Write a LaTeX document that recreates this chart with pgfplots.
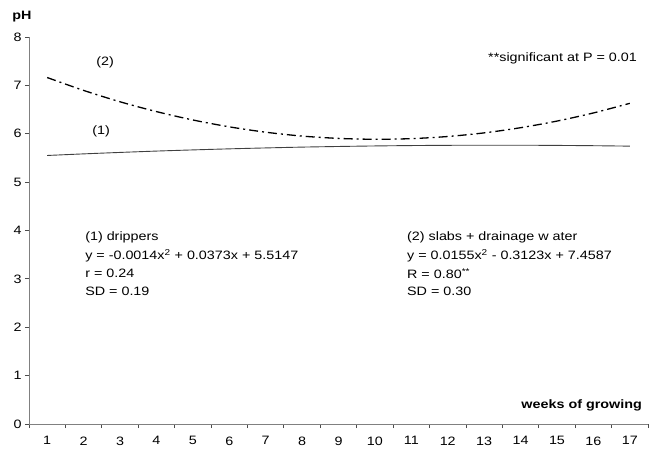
\documentclass[border=0pt]{standalone}
\usepackage{fontspec}
\setmainfont[FakeStretch=1.18]{Liberation Sans}
\usepackage{pgfplots}
\pgfplotsset{compat=1.18}
\begin{document}
\begin{tikzpicture}[font=\fontsize{12.2}{14}\selectfont]
\path[use as bounding box] (-29bp,-29bp) rectangle (622bp,424bp);
\begin{axis}[
  at={(0,0)}, anchor=south west,
  scale only axis, width=619bp, height=387bp,
  xmin=0.5, xmax=17.5, ymin=0, ymax=8,
  axis x line*=bottom, axis y line*=left,
  axis line style={draw=black!50, line width=0.8bp, -},
  xtick={0.5,1.5,...,17.5}, xticklabels={},
  extra x ticks={1,2,...,17},
  extra x tick style={tick style={draw=none}},
  xticklabel style={yshift=-5bp},
  ytick={0,1,...,8},
  tick align=outside, major tick length=4bp,
  tick style={black!70, line width=0.8bp},
  /pgf/number format/assume math mode=true,
  clip=false,
]
% (1) drippers
\addplot[black!75, line width=0.9bp, smooth] coordinates {
  (1,5.551) (2,5.584) (3,5.614) (4,5.642) (5,5.666) (6,5.688)
  (7,5.707) (8,5.724) (9,5.737) (10,5.748) (11,5.756) (12,5.761)
  (13,5.763) (14,5.763) (15,5.759) (16,5.753) (17,5.744)};
% (2) slabs + drainage water
\addplot[black, line width=1.3bp, dash pattern=on 9bp off 4bp on 2bp off 4bp, smooth] coordinates {
  (1,7.162) (2,6.896) (3,6.661) (4,6.458) (5,6.285) (6,6.143)
  (7,6.032) (8,5.952) (9,5.904) (10,5.886) (11,5.899) (12,5.943)
  (13,6.018) (14,6.125) (15,6.262) (16,6.430) (17,6.629)};

\node[font=\fontsize{12.2}{14}\selectfont\bfseries] at ([xshift=-7bp,yshift=20bp]axis cs:0.5,8) {pH};
\node[font=\fontsize{12.2}{14}\selectfont\bfseries, anchor=east, inner sep=0pt] at ([xshift=-6bp,yshift=19bp]axis cs:17.5,0) {weeks of growing};

\node at (axis cs:2.59,7.48) {(2)};
\node at (axis cs:2.48,6.05) {(1)};
\node[anchor=east, inner sep=0pt] at (axis cs:17.2,7.56) {**significant at P = 0.01};

\node[anchor=west, inner sep=0pt] at (axis cs:2.04,3.855) {(1) drippers};
\node[anchor=west, inner sep=0pt] at (axis cs:2.04,3.48) {y = -0.0014x\textsuperscript{2} + 0.0373x + 5.5147};
\node[anchor=west, inner sep=0pt] at (axis cs:2.04,3.11) {r = 0.24};
\node[anchor=west, inner sep=0pt] at (axis cs:2.04,2.74) {SD = 0.19};

\node[anchor=west, inner sep=0pt] at (axis cs:10.88,3.855) {(2) slabs + drainage w ater};
\node[anchor=west, inner sep=0pt] at (axis cs:10.88,3.48) {y = 0.0155x\textsuperscript{2} - 0.3123x + 7.4587};
\node[anchor=west, inner sep=0pt] at (axis cs:10.88,3.11) {R = 0.80\textsuperscript{**}};
\node[anchor=west, inner sep=0pt] at (axis cs:10.88,2.74) {SD = 0.30};
\end{axis}
\end{tikzpicture}
\end{document}
